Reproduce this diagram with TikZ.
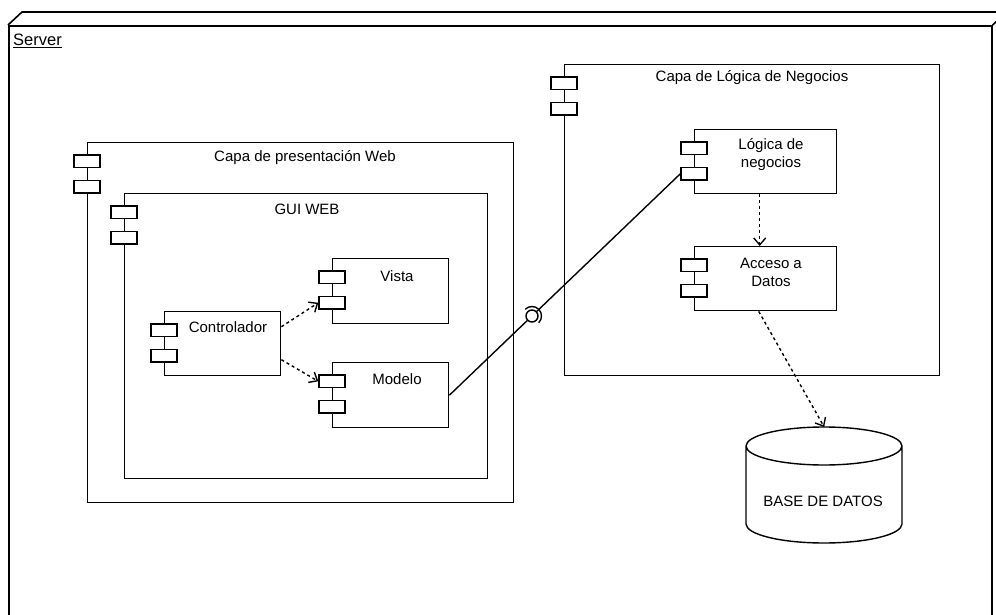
\documentclass[tikz,border=0pt]{standalone}
\usepackage{fontspec}
\setmainfont{Liberation Sans}
\usetikzlibrary{arrows.meta}
\newcommand{\lw}{1.4pt}
% two component tabs on the left edge of a box
\newcommand{\tabs}[1]{
\node[tab] (#1-t1) at ([yshift=-19.3pt]#1.north west) {};
\node[tab] (#1-t2) at ([yshift=-44.8pt]#1.north west) {};
}
\tikzset{
  box/.style={draw, line width=\lw, anchor=north west, inner sep=0pt},
  tab/.style={draw, fill=white, line width=\lw, minimum width=26pt, minimum height=12.5pt, inner sep=0pt},
  dep/.style={line width=\lw, dash pattern=on 3pt off 3pt, -{Straight Barb[length=7pt,width=12pt]}},
  txt/.style={font=\fontsize{15}{18}\selectfont, align=center, inner sep=0pt}
}

\begin{document}
\begin{tikzpicture}[x=1pt,y=-1pt]
\clip (0,0) rectangle (996,615);
\fill[white] (0,0) rectangle (996,615);
%Server
\node[box, line width=1.6pt, minimum width=983pt, minimum height=620pt] (server) at (8,25) {};
\draw[line width=1.6pt] (server.north west) -- ++(14,-13) -- ++(1000,0);
\draw[line width=1.6pt] (server.north east) -- ++(14,-13);
\node[txt, font=\fontsize{16.5}{18}\selectfont, anchor=west] (servername) at (13,41) {\underline{Server}};
%Capa de presentacion
\node[box, minimum width=426pt, minimum height=360pt] (capaweb) at (87,142) {};
\tabs{capaweb}
\node[txt] (capaweb-txt) at (305,158) {Capa de presentación Web};
\node[box, minimum width=363pt, minimum height=285pt] (guiweb) at (124,193) {};
\tabs{guiweb}
\node[txt] (guiweb-txt) at (307,209) {GUI WEB};
\node[box, minimum width=116pt, minimum height=64pt] (ctrl) at (164,311) {};
\tabs{ctrl}
\node[txt] (ctrl-txt) at (228,327) {Controlador};
\node[box, minimum width=116pt, minimum height=65pt] (vista) at (332,258) {};
\tabs{vista}
\node[txt] (vista-txt) at (397,276) {Vista};
\node[box, minimum width=116pt, minimum height=65pt] (modelo) at (332,362) {};
\tabs{modelo}
\node[txt] (modelo-txt) at (397,379) {Modelo};
%Capa de logica
\node[box, minimum width=375pt, minimum height=311pt] (capalog) at (564,64) {};
\tabs{capalog}
\node[txt] (capalog-txt) at (752,78) {Capa de Lógica de Negocios};
\node[box, minimum width=142pt, minimum height=64pt] (logica) at (694,129) {};
\tabs{logica}
\node[txt] (logica-txt) at (771,155) {Lógica de\\negocios};
\node[box, minimum width=142pt, minimum height=64pt] (acceso) at (694,246) {};
\tabs{acceso}
\node[txt] (acceso-txt) at (771,272) {Acceso a\\Datos};
%Base de datos
\node[anchor=north west, minimum width=156pt, minimum height=117pt, inner sep=0pt] (db) at (746,427) {};
\draw[line width=\lw, fill=white] (db.north west) ++(0,19) -- ++(0,78)
  arc[start angle=180, end angle=0, x radius=78, y radius=19] -- ++(0,-78)
  arc[start angle=0, end angle=-180, x radius=78, y radius=19]
  arc[start angle=180, end angle=0, x radius=78, y radius=19];
\node[txt] (db-txt) at (823,501) {BASE DE DATOS};
%conectores
\draw[dep] ([yshift=17pt]ctrl.east) -- (vista-t2.west);
\draw[dep] ([yshift=-16pt]ctrl.east) -- (modelo-t1.west);
\draw[dep] ([xshift=-6pt]logica.south) -- ([xshift=-6pt]acceso.north);
\draw[dep] ([xshift=-7pt]acceso.south) -- (db.north);
\node[circle, draw, fill=white, minimum size=12pt, inner sep=0pt, line width=\lw] (iface) at (532,316) {};
\draw[line width=\lw] (modelo.east) -- (iface);
\draw[line width=\lw] (iface) -- (logica-t2.west);
\draw[line width=\lw] (iface.center) ++(135:9.5pt) arc[start angle=135, end angle=-45, radius=9.5pt];
\end{tikzpicture}
\end{document}
